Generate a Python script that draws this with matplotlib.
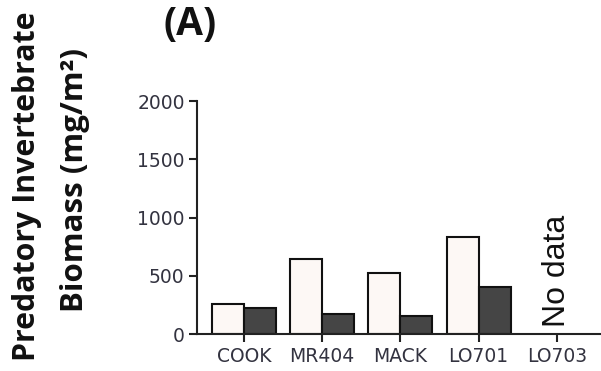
import matplotlib
matplotlib.use("Agg")
import matplotlib.pyplot as plt
import numpy as np

sites = ["COOK", "MR404", "MACK", "LO701", "LO703"]
series_a = [257, 644, 521, 835, np.nan]   # light bars
series_b = [226, 172, 154, 400, np.nan]   # dark bars
yticks = [0, 500, 1000, 1500, 2000]

fig = plt.figure(figsize=(6.01, 3.71), dpi=100)
ax = fig.add_axes([0.328, 0.0997, 0.67, 0.628])

x = np.arange(len(sites))
w = 0.41
ax.bar(x - w/2, series_a, width=w, color="#fdf8f5", edgecolor="#111111", linewidth=1.5)
ax.bar(x + w/2, series_b, width=w, color="#454545", edgecolor="#111111", linewidth=1.5)

ax.set_xlim(-0.6, 4.55)
ax.set_ylim(0, 2000)
ax.set_yticks(yticks)
ax.set_xticks(x)
ax.set_xticklabels(sites)
for s in ["top", "right"]:
    ax.spines[s].set_visible(False)
for s in ["left", "bottom"]:
    ax.spines[s].set_linewidth(1.5)
    ax.spines[s].set_color("#222222")
ax.tick_params(axis="both", direction="out", length=6, width=1.5, color="#222222",
               labelsize=13.5, labelcolor="#333340")
ax.tick_params(axis="y", pad=3)
for lab in ax.get_xticklabels() + ax.get_yticklabels():
    lab.set_fontfamily("DejaVu Sans")

ax.text(4, 60, "No data", rotation=90, ha="center", va="bottom",
        fontsize=23, family="Liberation Sans", color="#111111")

fig.text(0.045, 0.497, "Predatory Invertebrate", rotation=90, ha="center", va="center",
         fontsize=21.8, fontweight="bold", family="Open Sans", color="#111111")
fig.text(0.125, 0.515, "Biomass (mg/m²)", rotation=90, ha="center", va="center",
         fontsize=22.5, fontweight="bold", family="Open Sans", color="#111111")
fig.text(0.316, 0.935, "(A)", ha="center", va="center",
         fontsize=28, fontweight="bold", family="Open Sans", color="#111111")

fig.savefig("out.png", dpi=100)
